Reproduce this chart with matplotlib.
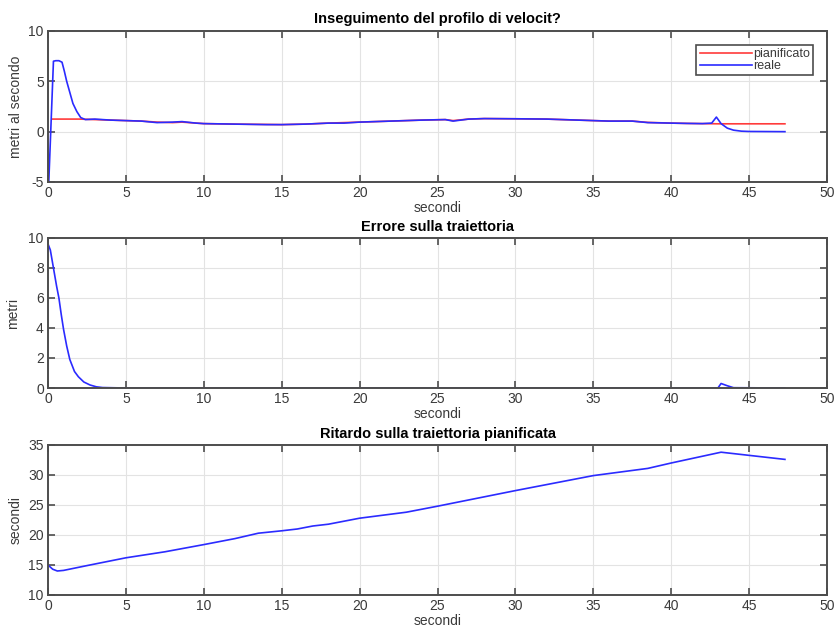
import matplotlib
matplotlib.use("Agg")
import matplotlib.pyplot as plt

plt.rcParams["font.family"] = ["Liberation Sans", "DejaVu Sans"]
plt.rcParams["axes.unicode_minus"] = False

# velocity profile (m/s)
t_plan = [0.3, 1.0, 2.0, 3.0, 4.0, 5.0, 6.0, 7.0, 8.0, 8.6, 9.5, 10.0, 12.0, 14.0, 15.0,
          16.5, 18.0, 19.0, 20.0, 22.0, 24.0, 25.5, 26.0, 27.0, 28.0, 30.0, 32.0, 34.0,
          36.0, 37.5, 38.5, 40.0, 41.0, 42.0, 43.0, 45.0, 47.3]
v_plan = [1.25, 1.25, 1.25, 1.2, 1.15, 1.1, 1.05, 0.95, 0.9, 0.95, 0.85, 0.8, 0.75,
          0.72, 0.7, 0.75, 0.85, 0.9, 0.95, 1.05, 1.15, 1.2, 1.1, 1.25, 1.3, 1.28, 1.25,
          1.15, 1.05, 1.05, 0.92, 0.85, 0.82, 0.8, 0.78, 0.78, 0.78]
t_real = [0.05, 0.35, 0.5, 0.7, 0.9, 1.05, 1.2, 1.4, 1.6, 1.85, 2.1, 2.4, 3.0, 4.0,
          5.0, 6.0, 7.0, 8.0, 8.6, 9.5, 10.0, 12.0, 14.0, 15.0, 16.5, 18.0, 19.0, 20.0,
          22.0, 24.0, 25.5, 26.0, 27.0, 28.0, 30.0, 32.0, 34.0, 36.0, 37.5, 38.5, 40.0,
          41.0, 42.0, 42.6, 42.9, 43.2, 43.6, 44.0, 44.5, 45.0, 47.3]
v_real = [-5.0, 7.0, 7.05, 7.05, 6.9, 6.0, 5.0, 3.9, 2.8, 2.0, 1.4, 1.2, 1.25, 1.15,
          1.1, 1.05, 0.9, 0.95, 1.0, 0.85, 0.8, 0.75, 0.7, 0.7, 0.75, 0.85, 0.85, 0.95,
          1.05, 1.15, 1.2, 1.05, 1.25, 1.3, 1.28, 1.25, 1.15, 1.05, 1.05, 0.9, 0.85,
          0.82, 0.8, 0.85, 1.45, 0.8, 0.35, 0.15, 0.05, 0.02, 0.0]

# trajectory error (m)
t_err = [0.0, 0.15, 0.35, 0.55, 0.7, 0.85, 1.0, 1.2, 1.4, 1.7, 1.95, 2.3, 2.7, 3.1,
         3.5, 5.0, 43.0, 43.2, 43.6, 44.0, 47.3]
e_err = [9.6, 9.2, 8.0, 6.8, 6.0, 4.9, 3.9, 2.8, 1.9, 1.1, 0.75, 0.4, 0.2, 0.08,
         0.03, 0.0, 0.0, 0.3, 0.15, 0.02, 0.0]

# delay on planned trajectory (s)
t_del = [0.0, 0.3, 0.6, 1.0, 2.5, 5.0, 7.5, 10.0, 12.0, 13.5, 15.0, 16.0, 17.0, 18.0,
         20.0, 23.0, 25.0, 30.0, 35.0, 38.5, 40.0, 43.2, 47.3]
d_del = [15.0, 14.3, 14.0, 14.1, 14.9, 16.2, 17.2, 18.4, 19.4, 20.3, 20.7, 21.0, 21.5,
         21.8, 22.8, 23.8, 24.8, 27.4, 29.9, 31.1, 32.0, 33.8, 32.6]

frame = "#4d4d4d"
txt = "#3a3a3a"
fig = plt.figure(figsize=(8.38, 6.29), dpi=100)
boxes = [(48, 31, 827, 182), (48, 238, 827, 388), (48, 445, 827, 595)]
W, H = 838, 629
axes = []
for x0, y0, x1, y1 in boxes:
    ax = fig.add_axes([x0 / W, 1 - y1 / H, (x1 - x0) / W, (y1 - y0) / H])
    ax.set_xlim(0, 50)
    ax.set_xticks(range(0, 51, 5))
    ax.grid(True, color="#e3e3e3", linewidth=0.8)
    ax.set_axisbelow(True)
    ax.tick_params(direction="in", top=True, right=True, length=5, width=1.2,
                   color=frame, labelsize=10, labelcolor=txt, pad=3)
    for s in ax.spines.values():
        s.set_color(frame)
        s.set_linewidth(1.4)
    ax.set_xlabel("secondi", fontsize=10, color=txt, labelpad=0.5)
    axes.append(ax)

ax1, ax2, ax3 = axes
ax1.plot(t_plan, v_plan, color="#ff3b3b", linewidth=1.2, label="pianificato")
ax1.plot(t_real, v_real, color="#2b2bff", linewidth=1.2, label="reale")
ax1.set_ylim(-5, 10)
ax1.set_yticks([-5, 0, 5, 10])
ax1.set_ylabel("metri al secondo", fontsize=10, color=txt, labelpad=4)
ax1.set_title("Inseguimento del profilo di velocit?", fontsize=10.5, fontweight="bold",
              pad=6)
leg = ax1.legend(loc="upper right", fontsize=9, frameon=True, fancybox=False,
                 borderpad=0.25, handlelength=4.2, handletextpad=0.1, labelspacing=0.0,
                 borderaxespad=1.1, framealpha=1)
leg.get_frame().set_edgecolor(frame)
leg.get_frame().set_linewidth(1.2)
for t in leg.get_texts():
    t.set_color(txt)

ax2.plot(t_err, e_err, color="#2b2bff", linewidth=1.2)
ax2.set_ylim(0, 10)
ax2.set_yticks(range(0, 11, 2))
ax2.set_ylabel("metri", fontsize=10, color=txt, labelpad=6)
ax2.set_title("Errore sulla traiettoria", fontsize=10.5, fontweight="bold", pad=5)

ax3.plot(t_del, d_del, color="#2b2bff", linewidth=1.2)
ax3.set_ylim(10, 35)
ax3.set_yticks(range(10, 36, 5))
ax3.set_ylabel("secondi", fontsize=10, color=txt, labelpad=4)
ax3.set_title("Ritardo sulla traiettoria pianificata", fontsize=10.5, fontweight="bold",
              pad=5)

fig.savefig("out.png", dpi=100)
